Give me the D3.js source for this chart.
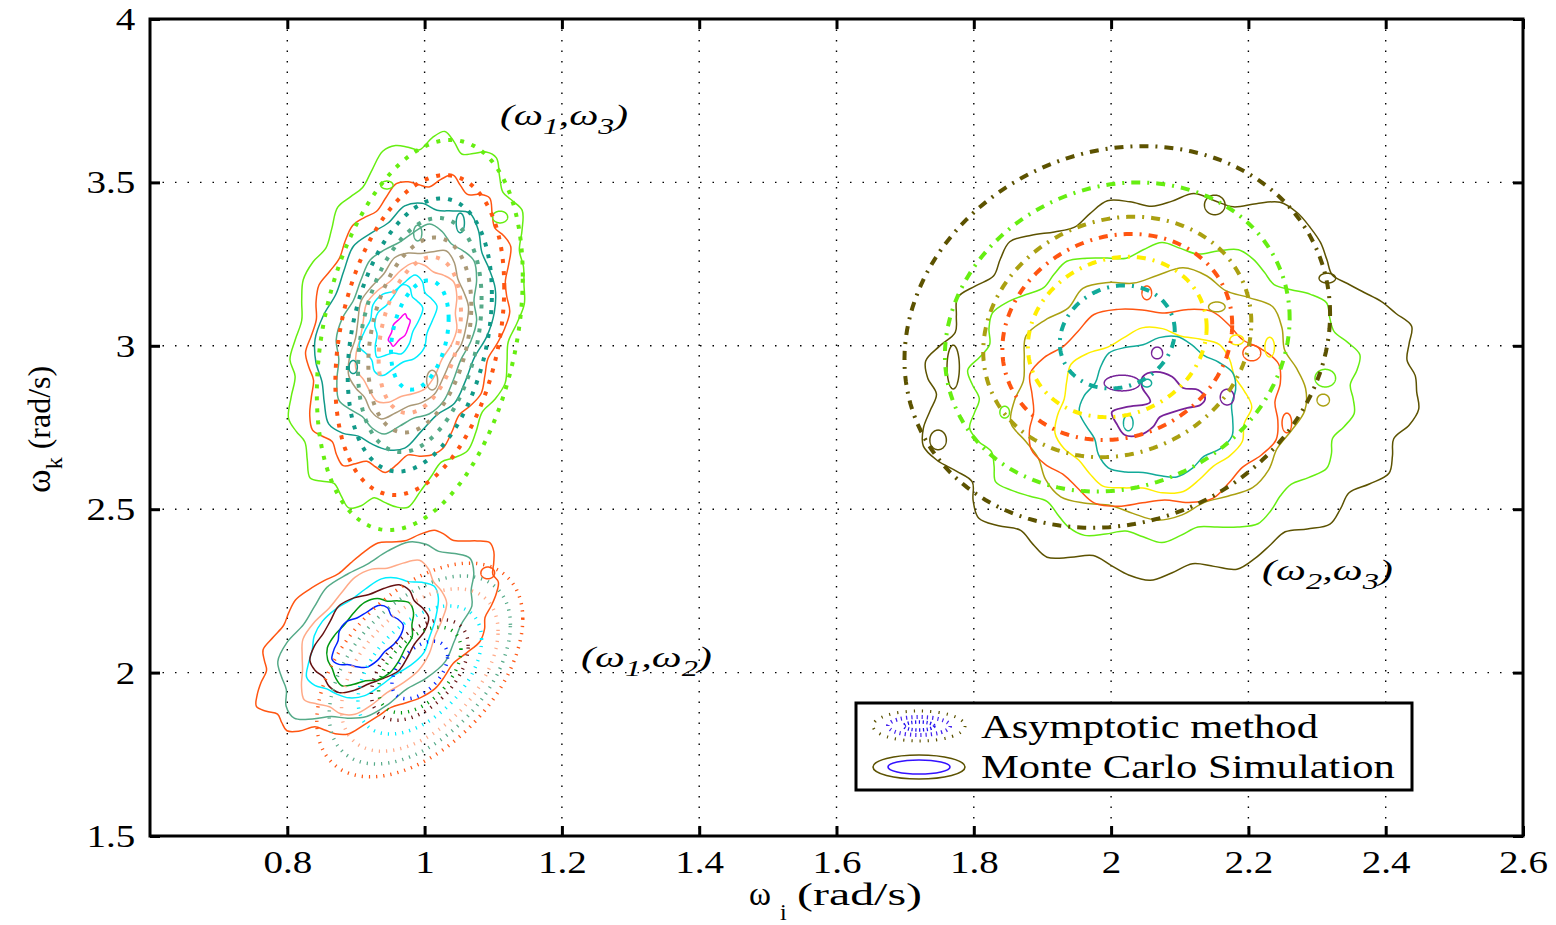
<!DOCTYPE html>
<html>
<head>
<meta charset="utf-8">
<script src="https://cdn.jsdelivr.net/npm/d3@7"></script>
<style>
  body { margin: 0; background: #fff; }
  svg text { font-family: "Liberation Serif", "Times New Roman", serif; fill: #000; }
</style>
</head>
<body>
<svg id="chart" width="1556" height="925"></svg>
<script>
// ---- axis ticks
const xTicks = [0.8, 1, 1.2, 1.4, 1.6, 1.8, 2, 2.2, 2.4, 2.6];
const yTicks = [1.5, 2, 2.5, 3, 3.5, 4];
const xGrid = [0.8, 1, 1.2, 1.4, 1.6, 1.8, 2, 2.2, 2.4];
const yGrid = [2, 2.5, 3, 3.5];

// ---- asymptotic method: gaussian contours, one entry per pair
const pairNames = ["(w1,w3)", "(w1,w2)", "(w2,w3)"];
const asymCenter = [[0.993, 3.033], [0.993, 2.008], [2.009, 3.027]];
const asymSpread = [[0.150, 0.597], [0.150, 0.327], [0.310, 0.584]];
const asymRho = [0.30, 0.48, 0.12];
const asymLevels = [
  [1, 0.82, 0.70, 0.60, 0.50, 0.40, 0.28],
  [1, 0.88, 0.76, 0.60, 0.47, 0.40, 0.27],
  [1, 0.81, 0.63, 0.54, 0.42, 0.27]
];
const asymColors = [
  ["#66ee11", "#ff5511", "#119988", "#55aa88", "#aa9977", "#ffaa88", "#00eeff"],
  ["#ff5511", "#55aa88", "#ffaa88", "#00eeff", "#661111", "#009911", "#0022ff"],
  ["#5c5200", "#66ee11", "#aaa011", "#ff5511", "#ffee00", "#11aa99"]
];

// ---- monte carlo contours (centre, spread, correlation, radius along the contour)
const mcPair = [0,0,0,0,0,0,0,0,0, 1,1,1,1,1,1,1, 2,2,2,2,2,2];
const mcColor = ["#66ee11","#ff5511","#119988","#55aa88","#aa9977","#ffaa88","#00eeff","#00eeff","#ff00ee",
                 "#ff5511","#55aa88","#ffaa88","#00eeff","#661111","#009911","#0022ff",
                 "#5c5200","#66ee11","#aaa011","#ff5511","#ffee00","#11aa99"];
const mcCx = [0.976,0.976,0.971,0.974,0.976,0.974,0.962,0.960,0.963,
              0.932,0.931,0.923,0.925,0.919,0.922,0.916,
              2.089,2.074,2.067,2.062,2.060,2.070];
const mcCy = [3.073,3.067,3.061,3.048,3.042,3.039,3.060,3.070,3.048,
              2.121,2.121,2.106,2.109,2.103,2.094,2.106,
              2.880,2.859,2.850,2.813,2.800,2.810];
const mcAx = [0.168,0.146,0.128,0.102,0.0845,0.073,0.052,0.034,0.016,
              0.172,0.141,0.105,0.095,0.082,0.062,0.049,
              0.354,0.280,0.208,0.184,0.138,0.111];
const mcAy = [0.566,0.447,0.370,0.306,0.251,0.208,0.140,0.105,0.046,
              0.306,0.269,0.229,0.180,0.156,0.134,0.091,
              0.575,0.444,0.373,0.306,0.248,0.211];
const mcRho = [0.30,0.30,0.30,0.30,0.30,0.30,0.40,0.40,0.65,
               0.50,0.50,0.45,0.45,0.40,0.40,0.40,
               0.05,0.05,0.05,0.05,0.05,0.05];
const mcShape = [
  [1.00,0.97,1.01,1.04,0.99,0.95,0.98,1.03,1.01,0.96,0.93,0.98,1.03,1.00,0.95,0.99,1.04,1.06,1.01,0.97,1.00,1.04,0.99,0.96,1.02,1.05,1.01,0.97,1.00,1.03,0.98,1.02,1.06,1.02,0.98,1.01,1.05,1.00,0.96,0.99,1.03,1.00,0.95,0.98,1.02,1.05,1.00,0.96,0.93,0.98,1.03,1.00,0.96,1.01,1.04,0.99,0.95,0.99,1.03,1.01],
  [0.97,1.01,1.05,1.01,0.96,0.99,1.04,1.00,0.95,0.98,1.03,0.99,0.94,0.97,1.02,1.05,1.00,0.96,1.00,1.04,1.01,0.97,1.00,1.05,1.02,0.97,0.99,1.03,0.99,0.95,0.99,1.04,1.06,1.01,0.97,1.01,1.04,0.99,0.95,0.98,1.02,0.98,0.94,0.99,1.04,1.06,1.01,0.96,1.00,1.03,0.98,0.94,0.98,1.02,1.04,0.99],
  [1.03,0.98,0.95,1.01,1.05,0.99,0.96,1.02,1.04,0.97,1.00,1.05,0.98,0.94,1.00,1.04,1.01,0.96,0.99,1.04,1.00,0.95,0.98,1.03,1.06,0.99,0.96,1.02,0.98,0.95,1.01,1.04],
  [0.96,1.02,1.05,0.99,0.95,1.01,1.06,1.00,0.96,0.99,1.04,0.98,0.94,1.01,1.03,0.97,1.02,1.06,0.99,0.95,1.00,1.04,0.98,0.96,1.03,1.05,0.99,0.95,1.00,1.02],
  [1.04,0.98,0.95,1.02,1.06,0.99,0.96,1.01,1.05,0.97,1.00,1.04,0.96,0.93,1.01,1.05,1.00,0.96,1.03,1.07,0.99,0.95,1.00,1.04,0.98,0.95,1.02,1.03],
  [0.97,1.03,1.06,0.99,0.94,1.00,1.05,1.01,0.96,1.02,1.07,0.98,0.95,1.01,1.04,0.97,0.99,1.05,1.02,0.95,0.98,1.04,1.00,0.94,1.00,1.03],
  [1.08,0.95,0.88,1.02,1.12,0.97,0.90,1.05,1.09,0.93,1.00,1.10,0.94,0.89,1.03,1.08,0.96,0.92,1.06,1.10,0.95,0.99],
  [1.10,0.92,0.85,1.05,1.14,0.93,0.88,1.07,1.02,0.86,1.00,1.12,0.94,0.90,1.08,1.03,0.88,0.98],
  [1.00,0.85,1.10,0.95,1.05,0.80,1.00,0.90,1.10,0.85,1.05,0.95],
  [1.02,0.98,1.01,1.05,1.07,1.02,0.97,0.95,0.99,1.03,1.00,0.96,0.99,1.04,1.01,0.97,0.94,0.98,1.02,1.05,1.01,0.97,1.00,1.04,0.99,0.95,0.99,1.03,1.06,1.01,0.96,0.99,1.03,1.00,0.94,0.97,1.02,1.05,1.00,0.96,0.93,0.97,1.02,1.04,1.00,0.96,1.00,1.05,1.02,0.97,0.99,1.01],
  [0.97,1.02,1.05,0.99,0.95,1.01,1.06,1.02,0.97,1.00,1.04,0.97,0.94,1.02,1.05,0.99,0.96,1.03,1.06,1.00,0.95,0.99,1.04,1.01,0.96,1.02,1.05,0.98,0.95,1.00],
  [1.04,0.99,0.95,1.01,1.06,1.00,0.96,1.03,1.05,0.98,0.95,1.02,1.06,0.99,0.96,1.00,1.04,0.97,0.94,1.01,1.05,1.00,0.95,0.99,1.04,1.02,0.97,1.00],
  [0.98,1.03,1.06,1.00,0.95,1.01,1.05,0.98,0.94,1.00,1.04,1.02,0.96,0.99,1.05,1.01,0.95,0.98,1.04,1.06,0.99,0.95,1.01,1.04,0.97,0.96],
  [1.06,0.98,0.93,1.02,1.07,1.00,0.95,1.03,1.08,0.97,0.94,1.01,1.05,0.99,0.93,1.00,1.06,1.02,0.96,0.99,1.05,0.97,0.93,1.02],
  [0.96,1.04,1.07,0.98,0.93,1.03,1.06,0.99,0.94,1.01,1.07,1.02,0.95,0.99,1.05,0.97,0.92,1.02,1.06,1.00,0.95,1.01],
  [1.08,0.96,0.89,1.04,1.10,0.95,0.91,1.06,1.02,0.90,0.98,1.09,1.03,0.92,0.97,1.07,1.01,0.90,0.99,1.06],
  [1.00,0.97,0.99,1.02,0.98,0.95,0.91,0.88,0.86,0.90,0.95,0.99,1.03,1.05,1.01,0.97,0.99,1.02,0.98,0.96,1.00,1.03,0.99,0.95,0.97,1.01,1.04,1.00,0.96,0.99,1.02,0.98,0.95,0.99,1.03,1.01,0.97,1.00,1.04,1.06,1.03,0.98,0.95,1.00,1.04,1.01,0.97,1.00,1.03,0.99,0.95,0.98,1.02,1.04,1.00,0.96,0.99,1.03,1.00,0.96,0.93,0.97,1.01,0.98,0.95,0.99,1.03,1.00,0.97,1.01,1.03,1.01],
  [0.98,1.02,1.05,1.01,0.97,0.99,1.03,1.00,0.95,0.92,0.96,1.01,1.04,1.00,0.96,0.99,1.03,0.99,0.95,0.98,1.02,1.05,1.01,0.97,1.00,1.04,1.06,1.02,0.97,0.99,1.03,0.99,0.95,0.98,1.02,1.00,0.96,0.99,1.04,1.01,0.97,0.94,0.98,1.03,1.05,1.01,0.97,1.00,1.04,1.00,0.96,0.99,1.03,1.06,1.02,0.97,0.95,0.99,1.03,1.00,0.96,0.99,1.02,1.00],
  [1.04,0.99,0.95,1.01,1.06,1.00,0.96,1.02,1.05,0.98,0.94,1.00,1.04,0.97,1.02,1.06,0.99,0.95,1.00,1.04,0.98,0.96,1.02,1.05,1.00,0.95,0.98,1.03,1.01,0.96,0.99,1.04,1.02,0.97,1.00,1.05],
  [0.96,1.02,1.06,1.01,0.95,0.99,1.04,1.00,0.94,0.98,1.03,1.06,0.99,0.96,1.02,1.05,0.98,0.95,1.00,1.04,1.01,0.96,0.99,1.05,1.02,0.96,0.94,1.01,1.05,0.99,0.95,1.00,1.04,1.00],
  [1.05,0.99,0.95,1.01,1.06,1.00,0.96,1.02,1.04,0.97,0.94,1.01,1.06,0.99,0.95,1.00,1.05,1.02,0.96,0.99,1.04,0.98,0.95,1.02,1.06,1.00,0.96,1.01,1.04,0.99],
  [0.95,1.03,1.07,1.00,0.94,0.99,1.05,1.02,0.95,1.00,1.06,0.99,0.93,1.01,1.05,0.98,0.94,1.02,1.07,1.01,0.95,0.98,1.04,1.00,0.94,1.02,1.06,0.99]
];

// innermost (w2,w3) monte carlo contour, traced point by point
const purpleX = [2.001,2.023,2.057,2.045,2.046,2.064,2.089,2.105,2.127,2.137,2.130,2.111,2.090,2.071,2.061,2.042,2.020,2.009];
const purpleY = [2.797,2.813,2.828,2.874,2.905,2.920,2.905,2.871,2.865,2.840,2.819,2.810,2.797,2.782,2.752,2.727,2.727,2.758];

// small isolated monte carlo islands
const islandX  = [0.945,1.110,1.052,0.990,1.011,0.896, 1.092, 1.770,2.151,2.315,1.748,2.052,2.154,2.183,2.205,2.231,2.256,2.312,2.309,1.845,2.025,2.052,2.016,2.067,2.169];
const islandY  = [3.492,3.394,3.376,3.345,2.895,2.935, 2.305, 2.935,3.431,3.207,2.712,3.162,3.119,3.018,2.978,2.996,2.764,2.901,2.834,2.797,2.764,2.886,2.886,2.978,2.843];
const islandAx = [0.009,0.011,0.006,0.006,0.008,0.006, 0.010, 0.009,0.015,0.012,0.012,0.007,0.012,0.010,0.013,0.007,0.007,0.015,0.009,0.007,0.007,0.007,0.026,0.008,0.010];
const islandAy = [0.012,0.018,0.030,0.024,0.030,0.020, 0.018, 0.067,0.030,0.015,0.030,0.021,0.015,0.015,0.024,0.030,0.030,0.027,0.018,0.018,0.024,0.012,0.024,0.018,0.024];
const islandColor = ["#66ee11","#66ee11","#119988","#55aa88","#aa9977","#119988", "#ff5511",
                     "#5c5200","#5c5200","#5c5200","#5c5200","#ff5511","#aaa011","#ffee00","#ff5511","#ffee00","#ff5511","#66ee11","#aaa011","#66ee11","#11aa99","#11aa99","#772299","#772299","#772299"];

const legendLabels = ["Asymptotic method", "Monte Carlo Simulation"];

// ---- layout
const svg = d3.select("#chart");
const plotL = 150, plotR = 1523, plotT = 19, plotB = 836;

const x = d3.scaleLinear().domain([0.6, 2.6]).range([plotL, plotR]);
const y = d3.scaleLinear().domain([1.5, 4]).range([plotB, plotT]);

// dash style per pair (asymptotic lines)
const asymStyle = [
  { w: 4,   dash: "4,8" },
  { w: 3.5, dash: "1.2,6" },
  { w: 4,   dash: "9,7,2,7" }
];

function ellipsePath(cx, cy, ax, ay, rho, k, shape) {
  var n = shape ? shape.length : 160;
  var s = Math.sqrt(1 - rho * rho);
  var pts = d3.range(n).map(function(i) {
    var t = 2 * Math.PI * i / n;
    var r = k * (shape ? shape[i] : 1);
    return [x(cx + ax * r * Math.cos(t)), y(cy + ay * r * (rho * Math.cos(t) + s * Math.sin(t)))];
  });
  return d3.line().curve(shape ? d3.curveCatmullRomClosed : d3.curveLinearClosed)(pts);
}

// stretch a text element horizontally to a given width
function fitWidth(sel, width) {
  var w = sel.node().getBBox().width;
  sel.attr("transform", (sel.attr("transform") || "") + " scale(" + (width / w) + ",1)");
}

// grid
svg.append("g").selectAll("line").data(xGrid).enter().append("line")
  .attr("x1", d => x(d)).attr("x2", d => x(d)).attr("y1", plotT).attr("y2", plotB)
  .attr("stroke", "#000").attr("stroke-width", 1.4).attr("stroke-dasharray", "1.5,9");
svg.append("g").selectAll("line").data(yGrid).enter().append("line")
  .attr("x1", plotL).attr("x2", plotR).attr("y1", d => y(d)).attr("y2", d => y(d))
  .attr("stroke", "#000").attr("stroke-width", 1.4).attr("stroke-dasharray", "1.5,11");

// monte carlo contours
var mc = svg.append("g").attr("fill", "none").attr("stroke-width", 1.5);
mcColor.forEach(function(c, i) {
  mc.append("path")
    .attr("d", ellipsePath(mcCx[i], mcCy[i], mcAx[i], mcAy[i], mcRho[i], 1, mcShape[i]))
    .attr("stroke", c);
});
mc.append("path")
  .attr("d", d3.line().curve(d3.curveCatmullRomClosed)(purpleX.map((v, i) => [x(v), y(purpleY[i])])))
  .attr("stroke", "#772299").attr("stroke-width", 1.8);
islandColor.forEach(function(c, i) {
  mc.append("path")
    .attr("d", ellipsePath(islandX[i], islandY[i], islandAx[i], islandAy[i], 0, 1))
    .attr("stroke", c);
});

// asymptotic contours
var asym = svg.append("g").attr("fill", "none");
pairNames.forEach(function(p, g) {
  asymLevels[g].forEach(function(k, j) {
    asym.append("path")
      .attr("d", ellipsePath(asymCenter[g][0], asymCenter[g][1], asymSpread[g][0], asymSpread[g][1], asymRho[g], k))
      .attr("stroke", asymColors[g][j])
      .attr("stroke-width", asymStyle[g].w)
      .attr("stroke-dasharray", asymStyle[g].dash);
  });
});

// axes (ticks inside, box on)
var fmt = d3.format("");
var xAxis = svg.append("g").attr("transform", "translate(0," + plotB + ")")
  .call(d3.axisBottom(x).tickValues(xTicks).tickSize(-10).tickPadding(14).tickFormat(fmt));
var yAxis = svg.append("g").attr("transform", "translate(" + plotL + ",0)")
  .call(d3.axisLeft(y).tickValues(yTicks).tickSize(-10).tickPadding(12).tickFormat(fmt));
svg.append("g").attr("transform", "translate(0," + plotT + ")")
  .call(d3.axisTop(x).tickValues(xTicks).tickSize(-10).tickFormat(""));
svg.append("g").attr("transform", "translate(" + plotR + ",0)")
  .call(d3.axisRight(y).tickValues(yTicks).tickSize(-10).tickFormat(""));
svg.selectAll(".domain").remove();
svg.selectAll(".tick line").attr("stroke", "#000").attr("stroke-width", 3);
xAxis.selectAll("text").attr("font-size", 32).attr("font-family", "Liberation Serif")
  .attr("dy", "0.71em").attr("transform", "scale(1.22,1)");
yAxis.selectAll("text").attr("font-size", 32).attr("font-family", "Liberation Serif")
  .attr("dy", "0.33em").attr("transform", "scale(1.22,1)");

svg.append("rect").attr("x", plotL).attr("y", plotT)
  .attr("width", plotR - plotL).attr("height", plotB - plotT)
  .attr("fill", "none").attr("stroke", "#000").attr("stroke-width", 3);

// axis labels
var xl1 = svg.append("text").attr("transform", "translate(749,905)").attr("font-size", 34).text("ω");
fitWidth(xl1, 22);
svg.append("text").attr("x", 780).attr("y", 920).attr("font-size", 24).text("i");
var xl2 = svg.append("text").attr("transform", "translate(797,905)").attr("font-size", 32).text("(rad/s)");
fitWidth(xl2, 125);

var yl = svg.append("text").attr("transform", "translate(50,493) rotate(-90)").attr("font-size", 32);
yl.append("tspan").attr("font-size", 36).text("ω");
yl.append("tspan").attr("font-size", 24).attr("dy", 12).text("k");
yl.append("tspan").attr("dy", -12).attr("dx", 8).text("(rad/s)");

// pair labels
function pairLabel(px, py, a, b, width) {
  var t = svg.append("text").attr("transform", "translate(" + px + "," + py + ")")
    .attr("font-size", 30).attr("font-style", "italic");
  t.append("tspan").text("(ω");
  t.append("tspan").attr("font-size", 23).attr("dy", 9).text(a);
  t.append("tspan").attr("dy", -9).text(",ω");
  t.append("tspan").attr("font-size", 23).attr("dy", 9).text(b);
  t.append("tspan").attr("dy", -9).text(")");
  fitWidth(t, width);
}
pairLabel(500, 125, "1", "3", 128);
pairLabel(581, 667, "1", "2", 131);
pairLabel(1262, 580, "2", "3", 131);

// legend
var lg = svg.append("g");
lg.append("rect").attr("x", 856).attr("y", 703).attr("width", 556).attr("height", 87)
  .attr("fill", "#fff").attr("stroke", "#000").attr("stroke-width", 3);
lg.append("ellipse").attr("cx", 919).attr("cy", 726).attr("rx", 46).attr("ry", 15)
  .attr("fill", "none").attr("stroke", "#5c5200").attr("stroke-width", 3).attr("stroke-dasharray", "1.2,7");
lg.append("ellipse").attr("cx", 919).attr("cy", 726).attr("rx", 31).attr("ry", 9)
  .attr("fill", "none").attr("stroke", "#4422ee").attr("stroke-width", 4).attr("stroke-dasharray", "1.2,4");
lg.append("ellipse").attr("cx", 919).attr("cy", 726).attr("rx", 15).attr("ry", 4)
  .attr("fill", "none").attr("stroke", "#2211ee").attr("stroke-width", 3.5).attr("stroke-dasharray", "1.2,2.5");
lg.append("ellipse").attr("cx", 919).attr("cy", 767).attr("rx", 46).attr("ry", 12)
  .attr("fill", "none").attr("stroke", "#5c5200").attr("stroke-width", 1.6);
lg.append("ellipse").attr("cx", 919).attr("cy", 767).attr("rx", 31).attr("ry", 7)
  .attr("fill", "none").attr("stroke", "#3311ff").attr("stroke-width", 1.6);
var lt1 = lg.append("text").attr("transform", "translate(981,738)").attr("font-size", 34).text(legendLabels[0]);
fitWidth(lt1, 337);
var lt2 = lg.append("text").attr("transform", "translate(981,778)").attr("font-size", 34).text(legendLabels[1]);
fitWidth(lt2, 414);
</script>
</body>
</html>
